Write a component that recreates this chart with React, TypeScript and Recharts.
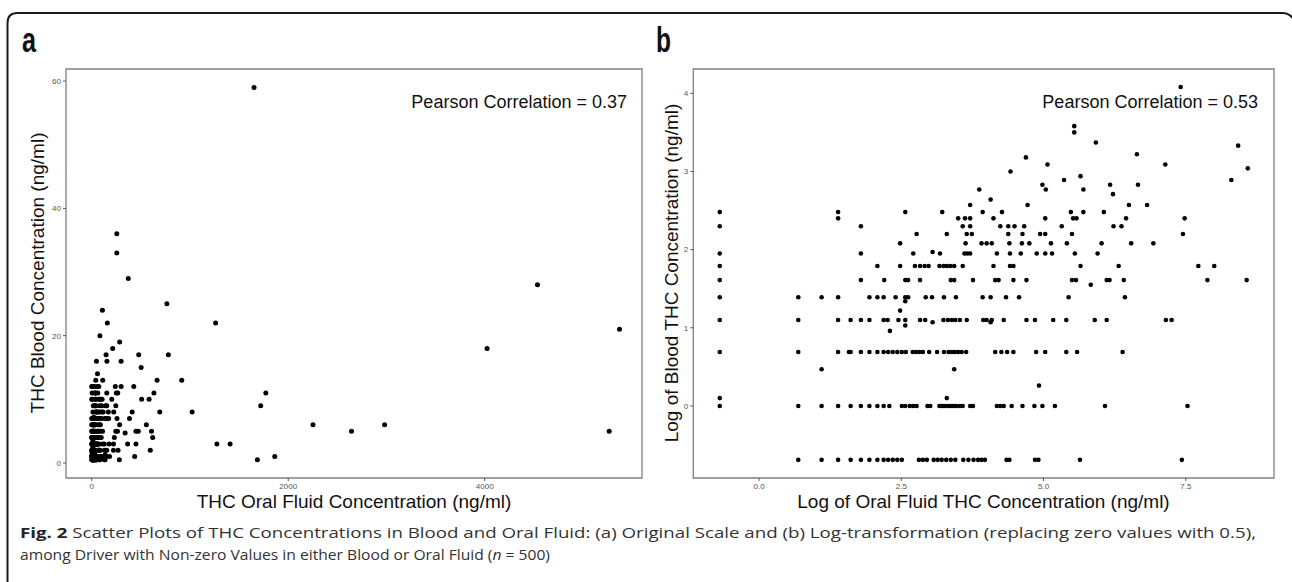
import React from 'react';
import { ScatterChart, Scatter, XAxis, YAxis, ReferenceArea } from 'recharts';

const FONT = '"Liberation Sans", Arial, Helvetica, sans-serif';

// Panel a: [blood concentration, list of oral fluid concentrations]
const oralBloodRows: [number, number[]][] = [
  [0.5, [2, 3, 4, 5, 6, 7, 8, 9, 10, 10.5, 11.4, 12.3, 16.6, 17.8, 19.1, 21.5, 23.1, 24.8, 26.8, 29.1, 31.5, 36.2, 39.6, 43.4, 47, 50, 53, 77.5, 81.5, 128, 136, 281, 1686]],
  [1, [0, 2, 3, 4, 5, 6, 7, 8, 9, 9.9, 12.3, 13, 14.2, 15, 16, 19.3, 20.3, 23.8, 24.8, 25.8, 27.1, 28.5, 29.7, 30.9, 32.1, 34.1, 35.9, 40.9, 42.9, 65.4, 69.4, 73.7, 84.8, 102.5, 126.5, 145.5, 181, 437, 1863]],
  [1.1, [0, 27]],
  [1.3, [137]],
  [1.6, [3, 31]],
  [2, [0, 2, 4, 4.9, 5, 6, 7, 8, 9, 9.7, 10.5, 11.4, 12.3, 13.2, 14.9, 15.8, 16.8, 17.8, 19.9, 22.9, 25.8, 27.9, 29.7, 31.2, 33.1, 35.2, 38.1, 63.4, 70.8, 78.3, 87.4, 130, 153, 221, 268, 596]],
  [2.6, [10]],
  [2.8, [13]],
  [2.9, [21, 58.6]],
  [3, [0, 2, 4, 5, 6, 7, 9, 9.6, 11.6, 13, 17, 18.5, 25.5, 27.7, 29.7, 31.5, 34.1, 38.5, 51.4, 54.6, 59.7, 73.7, 110, 127.7, 176, 221, 365, 450, 1274, 1408]],
  [3.4, [12]],
  [3.8, [13]],
  [4, [0, 2, 3, 4, 7, 8, 9, 11, 13, 13.7, 18.7, 20.9, 25.8, 31.8, 50.9, 58.6, 76.7, 96.5, 230, 620]],
  [4.7, [340]],
  [5, [0, 6, 9, 13, 13.7, 17, 29.1, 30.9, 42.9, 63.4, 67.4, 87.4, 110, 245, 262, 450, 474, 608, 2644, 5267]],
  [6, [0, 8, 12, 15.5, 17, 18.4, 19.7, 23.8, 25.5, 27.1, 28.8, 30.9, 35.9, 61.6, 82.3, 87.4, 284, 556, 2252, 2981]],
  [7, [0, 6, 15, 24, 37, 38.9, 40.9, 65.4, 82.3, 99.5, 131.6, 153, 172.4, 257, 384]],
  [7.2, [21]],
  [8, [12, 37.7, 50, 54.6, 59.7, 81.5, 101.5, 115.6, 169, 224, 412, 692, 1022]],
  [9, [16, 27.1, 38.5, 42.1, 79.8, 102.5, 140, 153, 245, 1720]],
  [10, [0, 6, 35.9, 40.9, 69.4, 79.8, 89.1, 105.6, 204, 508, 584]],
  [11, [4, 33.1, 37.3, 40.9, 61.6, 153, 250, 265, 633, 1772]],
  [12, [0, 4, 13, 25, 50.9, 71.5, 240, 299, 428]],
  [13, [40.9, 112, 665, 916]],
  [14, [58.6]],
  [15, [503]],
  [16, [48, 154.5, 299]],
  [17, [145.5, 478, 780]],
  [18, [213, 4024]],
  [19, [284]],
  [20, [83]],
  [21, [5372]],
  [22, [159, 1261]],
  [24, [108.8]],
  [25, [765]],
  [28, [4537]],
  [29, [372]],
  [33, [255]],
  [36, [255]],
  [59, [1652]],
];

// Panel b: [log blood concentration, list of log oral fluid concentrations]
const logRows: [number, number[]][] = [
  [-0.69, [0.69, 1.1, 1.39, 1.61, 1.79, 1.94, 2.08, 2.19, 2.27, 2.35, 2.43, 2.51, 2.81, 2.88, 2.95, 3.07, 3.14, 3.21, 3.29, 3.37, 3.45, 3.59, 3.68, 3.77, 3.85, 3.91, 3.97, 4.35, 4.4, 4.85, 4.91, 5.64, 7.43]],
  [0, [-0.69, 0.69, 1.1, 1.39, 1.61, 1.79, 1.94, 2.08, 2.19, 2.29, 2.51, 2.57, 2.65, 2.71, 2.77, 2.96, 3.01, 3.17, 3.21, 3.25, 3.3, 3.35, 3.39, 3.43, 3.47, 3.53, 3.58, 3.71, 3.76, 4.18, 4.24, 4.3, 4.44, 4.63, 4.84, 4.98, 5.2, 6.08, 7.53]],
  [0.1, [-0.69, 3.3]],
  [0.26, [4.92]],
  [0.47, [1.1, 3.43]],
  [0.69, [-0.69, 0.69, 1.39, 1.58, 1.61, 1.79, 1.94, 2.08, 2.19, 2.27, 2.35, 2.43, 2.51, 2.58, 2.7, 2.76, 2.82, 2.88, 2.99, 3.13, 3.25, 3.33, 3.39, 3.44, 3.5, 3.56, 3.64, 4.15, 4.26, 4.36, 4.47, 4.87, 5.03, 5.4, 5.59, 6.39]],
  [0.96, [2.3]],
  [1.03, [2.57]],
  [1.07, [3.05, 4.07]],
  [1.1, [-0.69, 0.69, 1.39, 1.61, 1.79, 1.94, 2.19, 2.26, 2.45, 2.57, 2.83, 2.92, 3.24, 3.32, 3.39, 3.45, 3.53, 3.65, 3.94, 4.0, 4.09, 4.3, 4.7, 4.85, 5.17, 5.4, 5.9, 6.11, 7.15, 7.25]],
  [1.22, [2.48]],
  [1.34, [2.57]],
  [1.39, [-0.69, 0.69, 1.1, 1.39, 1.94, 2.08, 2.19, 2.4, 2.57, 2.62, 2.93, 3.04, 3.25, 3.46, 3.93, 4.07, 4.34, 4.57, 5.44, 6.43]],
  [1.55, [5.83]],
  [1.61, [-0.69, 1.79, 2.2, 2.57, 2.62, 2.83, 3.37, 3.43, 3.76, 4.15, 4.21, 4.47, 4.7, 5.5, 5.57, 6.11, 6.16, 6.41, 7.88, 8.57]],
  [1.79, [-0.69, 2.08, 2.48, 2.74, 2.83, 2.91, 2.98, 3.17, 3.24, 3.3, 3.36, 3.43, 3.58, 4.12, 4.41, 4.47, 5.65, 6.32, 7.72, 8.0]],
  [1.95, [-0.69, 1.79, 2.71, 3.18, 3.61, 3.66, 3.71, 4.18, 4.41, 4.6, 4.88, 5.03, 5.15, 5.55, 5.95]],
  [1.97, [3.05]],
  [2.08, [2.48, 3.63, 3.91, 4.0, 4.09, 4.4, 4.62, 4.75, 5.13, 5.41, 6.02, 6.54, 6.93]],
  [2.2, [2.77, 3.3, 3.65, 3.74, 4.38, 4.63, 4.94, 5.03, 5.5, 7.45]],
  [2.3, [-0.69, 1.79, 3.58, 3.71, 4.24, 4.38, 4.49, 4.66, 5.32, 6.23, 6.37]],
  [2.4, [1.39, 3.5, 3.62, 3.71, 4.12, 5.03, 5.52, 5.58, 6.45, 7.48]],
  [2.48, [-0.69, 1.39, 2.57, 3.22, 3.93, 4.27, 5.48, 5.7, 6.06]],
  [2.57, [3.71, 4.72, 6.5, 6.82]],
  [2.64, [4.07]],
  [2.71, [6.22]],
  [2.77, [3.87, 5.04, 5.7]],
  [2.83, [4.98, 6.17, 6.66]],
  [2.89, [5.36, 8.3]],
  [2.94, [5.65]],
  [3.0, [4.42]],
  [3.04, [8.59]],
  [3.09, [5.07, 7.14]],
  [3.18, [4.69]],
  [3.22, [6.64]],
  [3.33, [8.42]],
  [3.37, [5.92]],
  [3.5, [5.54]],
  [3.58, [5.54]],
  [4.08, [7.41]],
];

const aXTicks = [0, 2000, 4000];
const aYTicks = [0, 20, 40, 60];
const bXTicks = [0, 2.5, 5, 7.5];
const bYTicks = [0, 1, 2, 3, 4];

const aXDomain: [number, number] = [-262, 5601];
const aYDomain: [number, number] = [-2.36, 61.9];
const bXDomain: [number, number] = [-1.155, 9.05];
const bYDomain: [number, number] = [-0.922, 4.311];

const aData = oralBloodRows.flatMap(([b, os]) => os.map((o) => ({ x: o, y: b })));
const bData = logRows.flatMap(([b, os]) => os.map((o) => ({ x: o, y: b })));

const dot = (r: number) => (props: any) =>
  props.cx == null ? <g /> : <circle cx={props.cx} cy={props.cy} r={r} fill="#000" />;

const tickStyle = { fontSize: 8, fill: '#555', fontFamily: FONT };

export default function App() {
  return (
    <div style={{ position: 'fixed', left: 0, top: 0, width: 1292, height: 582, background: '#fff', overflow: 'hidden' }}>
      <svg width={1292} height={582} style={{ position: 'absolute', left: 0, top: 0 }}>
        <path d="M 7.5 582 L 7.5 23 Q 7.5 13 17.5 13 L 1282 13 Q 1291 13 1294 21" fill="none" stroke="#1a1a1a" strokeWidth={2} />
        <text x={22} y={52} fontFamily={FONT} fontWeight="bold" fontSize={35} textLength={14} lengthAdjust="spacingAndGlyphs" fill="#111">a</text>
        <text x={656} y={52} fontFamily={FONT} fontWeight="bold" fontSize={35} textLength={15} lengthAdjust="spacingAndGlyphs" fill="#111">b</text>
        <text x={627} y={108} textAnchor="end" fontFamily={FONT} fontSize={18} fill="#111">Pearson Correlation = 0.37</text>
        <text x={1258} y={108} textAnchor="end" fontFamily={FONT} fontSize={18} fill="#111">Pearson Correlation = 0.53</text>
        <text x={354} y={508} textAnchor="middle" fontFamily={FONT} fontSize={19} fill="#111">THC Oral Fluid Concentration (ng/ml)</text>
        <text x={983.5} y={508} textAnchor="middle" fontFamily={FONT} fontSize={19} fill="#111">Log of Oral Fluid THC Concentration (ng/ml)</text>
        <text x={44} y={273} textAnchor="middle" transform="rotate(-90 44 273)" fontFamily={FONT} fontSize={19} fill="#111">THC Blood Concentration (ng/ml)</text>
        <text x={678} y={273} textAnchor="middle" transform="rotate(-90 678 273)" fontFamily={FONT} fontSize={19} fill="#111">Log of Blood THC Concentration (ng/ml)</text>
        <text x={20} y={538} fontFamily='"Open Sans", sans-serif' fontSize={15} fill="#333" textLength={1236} lengthAdjust="spacingAndGlyphs">
          <tspan fontWeight="bold" fill="#222">Fig. 2</tspan>
          <tspan> Scatter Plots of THC Concentrations in Blood and Oral Fluid: (a) Original Scale and (b) Log-transformation (replacing zero values with 0.5),</tspan>
        </text>
        <text x={20} y={560} fontFamily='"Open Sans", sans-serif' fontSize={15} fill="#333" textLength={530} lengthAdjust="spacingAndGlyphs">
          <tspan>among Driver with Non-zero Values in either Blood or Oral Fluid (</tspan>
          <tspan fontStyle="italic">n</tspan>
          <tspan> = 500)</tspan>
        </text>
      </svg>

      <div style={{ position: 'absolute', left: 0, top: 0 }}>
        <ScatterChart width={660} height={530} margin={{ top: 69, right: 18, bottom: 12, left: 0 }}>
          <XAxis type="number" dataKey="x" domain={aXDomain} ticks={aXTicks} allowDataOverflow interval={0}
            axisLine={false} tickLine={{ stroke: '#555' }} tickSize={3} tickMargin={2} tick={tickStyle} height={40} />
          <YAxis type="number" dataKey="y" domain={aYDomain} ticks={aYTicks} allowDataOverflow interval={0}
            axisLine={false} tickLine={{ stroke: '#555' }} tickSize={3} tickMargin={2} tick={tickStyle} width={66} />
          <ReferenceArea x1={aXDomain[0]} x2={aXDomain[1]} y1={aYDomain[0]} y2={aYDomain[1]} fill="none" stroke="#808080" strokeWidth={1.3} ifOverflow="visible" />
          <Scatter data={aData} isAnimationActive={false} shape={dot(2.5)} />
        </ScatterChart>
      </div>

      <div style={{ position: 'absolute', left: 650, top: 0 }}>
        <ScatterChart width={640} height={530} margin={{ top: 69, right: 16, bottom: 12, left: 0 }}>
          <XAxis type="number" dataKey="x" domain={bXDomain} ticks={bXTicks} allowDataOverflow interval={0}
            axisLine={false} tickLine={{ stroke: '#555' }} tickSize={3} tickMargin={2} tick={tickStyle} height={40}
            tickFormatter={(v: number) => v.toFixed(1)} />
          <YAxis type="number" dataKey="y" domain={bYDomain} ticks={bYTicks} allowDataOverflow interval={0}
            axisLine={false} tickLine={{ stroke: '#555' }} tickSize={3} tickMargin={2} tick={tickStyle} width={43.3} />
          <ReferenceArea x1={bXDomain[0]} x2={bXDomain[1]} y1={bYDomain[0]} y2={bYDomain[1]} fill="none" stroke="#808080" strokeWidth={1.3} ifOverflow="visible" />
          <Scatter data={bData} isAnimationActive={false} shape={dot(2.3)} />
        </ScatterChart>
      </div>
    </div>
  );
}
